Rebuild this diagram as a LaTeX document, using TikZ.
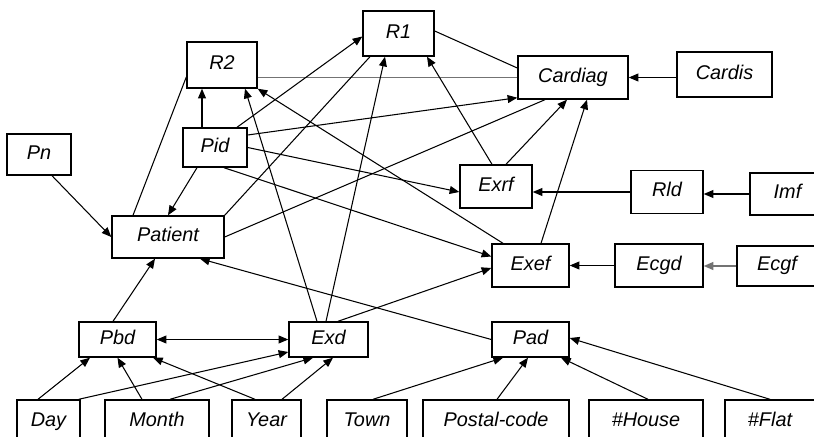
\documentclass[tikz,border=0pt]{standalone}
\usepackage{fontspec}
\setmainfont{Liberation Sans}
\usetikzlibrary{arrows.meta,calc}

\tikzset{
	box/.style = {draw, line width = 0.8pt, inner sep = 0pt,
		text height = 8pt, text depth = 2.4pt,
		font = \fontsize{11.3}{13}\selectfont\itshape},
	wh/.style 2 args = {minimum width = #1*0.02cm, minimum height = #2*0.02cm},
	link/.style = {line width = 0.6pt},
	pale/.style = {line width = 0.9pt, black!55}
}

\begin{document}
\begin{tikzpicture}[x = 0.02cm, y = -0.02cm, >={Triangle[length = 5.5pt, width = 4.5pt]}]

\useasboundingbox (0, 0) rectangle (814, 436);
\clip (0, 0) rectangle (814, 436);

% top and middle rows
\node[box, wh = {71}{45}] (R1) at (398.5, 33.5) {R1};
\node[box, wh = {70}{46}] (R2) at (222, 65) {R2};
\node[box, wh = {110}{43}] (Cardiag) at (573, 77.5) {Cardiag};
\node[box, wh = {95}{45}] (Cardis) at (724.5, 74.5) {Cardis};
\node[box, wh = {64}{41}] (Pn) at (39, 154.5) {Pn};
\node[box, wh = {64}{39}] (Pid) at (215, 147.5) {Pid};
\node[box, wh = {112}{42}] (Patient) at (168, 237) {Patient};
\node[box, wh = {72}{43}] (Exrf) at (496, 186.5) {Exrf};
\node[box, wh = {72}{43}] (Rld) at (667, 192) {Rld};
\node[box, wh = {75}{42}] (Imf) at (787.5, 194) {Imf};
\node[box, wh = {77}{43}] (Exef) at (530.5, 265.5) {Exef};
\node[box, wh = {88}{43}] (Ecgd) at (659, 265.5) {Ecgd};
\node[box, wh = {80}{40}] (Ecgf) at (777, 266) {Ecgf};
\node[box, wh = {77}{35}] (Pbd) at (117.5, 339.5) {Pbd};
\node[box, wh = {79}{35}] (Exd) at (328.5, 339.5) {Exd};
\node[box, wh = {77}{35}] (Pad) at (530.5, 339.5) {Pad};

% bottom row, cut off by the page edge
\node[box, wh = {63}{44}] (Day) at (48.5, 422) {Day};
\node[box, wh = {104}{44}] (Month) at (157, 422) {Month};
\node[box, wh = {69}{44}] (Year) at (266.5, 422) {Year};
\node[box, wh = {80}{44}] (Town) at (367, 422) {Town};
\node[box, wh = {146}{44}] (Postal) at (496, 422) {Postal-code};
\node[box, wh = {114}{44}] (House) at (646, 422) {\#House};
\node[box, wh = {90}{44}] (Flat) at (770, 422) {\#Flat};

% horizontal chains on the right
\draw[link, ->] (Cardis.west |- Cardiag.east) -- (Cardiag.east);
\draw[link, ->] (Imf.west) -- (Imf.west -| Rld.east);
\draw[link, ->] (Rld.west) -- (Rld.west -| Exrf.east);
\draw[pale, ->] (Ecgf.west) -- (Ecgf.west -| Ecgd.east);
\draw[link, ->] (Ecgd.west) -- (Ecgd.west -| Exef.east);

% plain links
\draw[pale] ($(R2.east) + (0, 12.5)$) -- (Cardiag.west);
\draw[link] ($(R1.east) + (0, -2.5)$) -- ($(Cardiag.west) + (0, -9.5)$);
\draw[link] ($(Patient.north) + (-35, 0)$) -- ($(R2.west) + (0, 12)$);
\draw[link] (Patient.north east) -- ($(R1.south) + (-28.5, 0)$);
\draw[link] (Patient.east) -- ($(Cardiag.south) + (-28, 0)$);

% from Pn and Pid
\draw[link, ->] ($(Pn.south) + (13, 0)$) -- (Patient.west);
\draw[link, ->] ($(Pid.south) + (-18, 0)$) -- (Patient.north);
\draw[link, ->] ($(Pid.north) + (-13, 0)$) -- ($(R2.south) + (-20, 0)$);
\draw[link, ->] ($(Pid.north) + (22, 0)$) -- ($(R1.west) + (0, 3)$);
\draw[link, ->] ($(Pid.east) + (0, -12.5)$) -- ($(Cardiag.south west) + (0, -2)$);
\draw[link, ->] (Pid.east) -- ($(Exrf.west) + (0, 5.5)$);
\draw[link, ->] ($(Pid.south) + (9, 0)$) -- ($(Exef.west) + (0, -9)$);

% from Exrf and Exef
\draw[link, ->] ($(Exrf.north) + (-4, 0)$) -- ($(R1.south) + (28.5, 0)$);
\draw[link, ->] ($(Exrf.north) + (10, 0)$) -- ($(Cardiag.south) + (-6, 0)$);
\draw[link, ->] ($(Exef.north) + (10.5, 0)$) -- ($(Cardiag.south) + (14, 0)$);
\draw[link, ->] ($(Exef.north) + (-27.5, 0)$) -- (R2.south east);

% from Exd, Pbd and Pad
\draw[link, ->] ($(Exd.north) + (-11.5, 0)$) -- ($(R2.south) + (23, 0)$);
\draw[link, ->] ($(Exd.north) + (-2.5, 0)$) -- ($(R1.south) + (-13.5, 0)$);
\draw[link, ->] ($(Exd.north) + (9.5, 0)$) -- ($(Exef.west) + (0, 2.5)$);
\draw[link, ->] (Pad.west) -- ($(Patient.south) + (32, 0)$);
\draw[link, ->] ($(Pbd.north) + (-4.5, 0)$) -- ($(Patient.south) + (-13, 0)$);
\draw[link, <->] (Pbd.east) -- (Exd.west);

% date parts
\draw[link, ->] ($(Day.north) + (-10.5, 0)$) -- ($(Pbd.south) + (-27.5, 0)$);
\draw[link, ->] ($(Month.north) + (-15, 0)$) -- (Pbd.south);
\draw[link, ->] ($(Year.north) + (-11.5, 0)$) -- ($(Pbd.south) + (35.5, 0)$);
\draw[link, ->] ($(Day.north east) + (-2, 0)$) -- ($(Exd.west) + (0, 12.5)$);
\draw[link, ->] ($(Month.north) + (13, 0)$) -- ($(Exd.south) + (-15.5, 0)$);
\draw[link, ->] ($(Year.north) + (15.5, 0)$) -- ($(Exd.south) + (4.5, 0)$);

% address parts
\draw[link, ->] ($(Town.north) + (6, 0)$) -- ($(Pad.south) + (-27.5, 0)$);
\draw[link, ->] ($(Postal.north) + (1, 0)$) -- ($(Pad.south) + (-2.5, 0)$);
\draw[link, ->] ($(House.north) + (2, 0)$) -- ($(Pad.south) + (30.5, 0)$);
\draw[link, ->] (Flat.north) -- ($(Pad.east) + (0, -1.5)$);

\end{tikzpicture}
\end{document}
